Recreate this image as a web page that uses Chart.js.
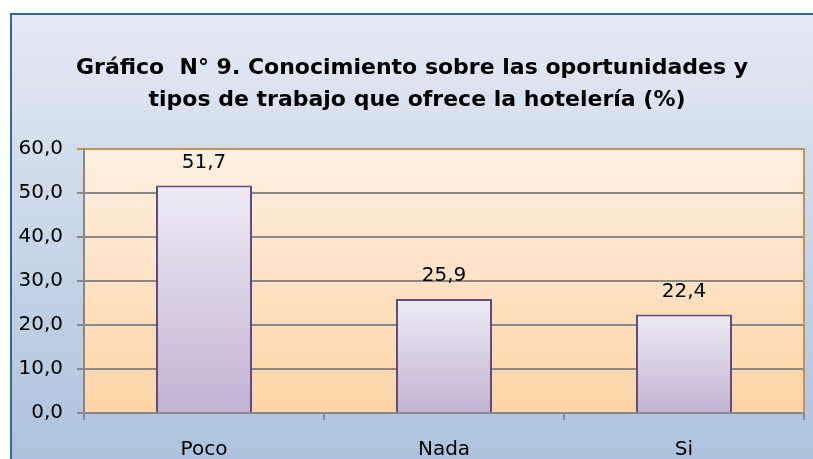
<!DOCTYPE html>
<html>
<head>
<meta charset="utf-8">
<script src="https://cdn.jsdelivr.net/npm/chart.js@4.4.1/dist/chart.umd.min.js"></script>
<style>
  html, body { margin: 0; padding: 0; background: #ffffff; }
  #wrap { width: 813px; height: 459px; }
</style>
</head>
<body>
<div id="wrap"><canvas id="c" width="813" height="459"></canvas></div>
<script>
// ---- data ----
const categories = ["Poco", "Nada", "Si"];
const values = [51.7, 25.9, 22.4];
const titleLines = [
  "Gráfico  N° 9. Conocimiento sobre las oportunidades y",
  "tipos de trabajo que ofrece la hotelería (%)"
];
const yMin = 0;
const yMax = 60;
const yStep = 10;

const fmt = v => Number(v).toFixed(1).replace('.', ',');
const FONT = '"DejaVu Sans"';

const bgPlugin = {
  id: 'bg',
  beforeDraw(chart) {
    const ctx = chart.ctx;
    const W = chart.width, H = chart.height;
    ctx.save();
    ctx.fillStyle = '#ffffff';
    ctx.fillRect(0, 0, W, H);
    const g = ctx.createLinearGradient(0, 13, 0, H);
    g.addColorStop(0, '#E4EAF3');
    g.addColorStop(1, '#ADC3DD');
    ctx.fillStyle = g;
    ctx.fillRect(10, 13, W - 10, H - 13);
    ctx.strokeStyle = '#33689A';
    ctx.lineWidth = 2;
    ctx.beginPath();
    ctx.moveTo(11, H);
    ctx.lineTo(11, 14);
    ctx.lineTo(W, 14);
    ctx.stroke();
    const a = chart.chartArea;
    const pg = ctx.createLinearGradient(0, a.top, 0, a.bottom);
    pg.addColorStop(0, '#FFF0E2');
    pg.addColorStop(1, '#FDD4A5');
    ctx.fillStyle = pg;
    ctx.fillRect(a.left, a.top, a.right - a.left, a.bottom - a.top);
    // title
    ctx.fillStyle = '#000000';
    ctx.font = 'bold 22px ' + FONT;
    ctx.textAlign = 'center';
    ctx.textBaseline = 'alphabetic';
    ctx.fillText(titleLines[0], 412, 74);
    ctx.fillText(titleLines[1], 417, 106);
    ctx.restore();
  },
  beforeDatasetsDraw(chart) {
    const ctx = chart.ctx;
    const a = chart.chartArea;
    ctx.save();
    ctx.strokeStyle = '#C4924C';
    ctx.lineWidth = 2;
    ctx.beginPath();
    ctx.moveTo(a.left, a.top);
    ctx.lineTo(a.right, a.top);
    ctx.lineTo(a.right, a.bottom);
    ctx.stroke();
    ctx.restore();
  },
  afterDatasetsDraw(chart) {
    const ctx = chart.ctx;
    const meta = chart.getDatasetMeta(0);
    ctx.save();
    ctx.fillStyle = '#000000';
    ctx.font = '20px ' + FONT;
    ctx.textAlign = 'center';
    ctx.textBaseline = 'middle';
    meta.data.forEach((bar, i) => {
      ctx.fillText(fmt(chart.data.datasets[0].data[i]), bar.x, bar.y - 23);
    });
    ctx.restore();
  }
};

new Chart(document.getElementById('c'), {
  type: 'bar',
  data: {
    labels: categories,
    datasets: [{
      data: values,
      backgroundColor(context) {
        const chart = context.chart;
        const a = chart.chartArea;
        if (!a) return '#D8D0E6';
        const v = context.raw;
        const yTop = chart.scales.y.getPixelForValue(v);
        const yBot = chart.scales.y.getPixelForValue(0);
        const g = chart.ctx.createLinearGradient(0, yTop, 0, yBot);
        g.addColorStop(0, '#EEEBF5');
        g.addColorStop(1, '#C3B2D3');
        return g;
      },
      borderColor: '#604C84',
      borderWidth: 2,
      barPercentage: 0.4,
      categoryPercentage: 1.0
    }]
  },
  options: {
    responsive: false,
    animation: false,
    devicePixelRatio: 1,
    layout: { padding: { top: 149, left: 0, right: 9, bottom: 0 } },
    plugins: {
      legend: { display: false },
      tooltip: { enabled: false },
      title: { display: false }
    },
    scales: {
      x: {
        afterFit(scale) { scale.height = 46; },
        grid: {
          display: true,
          drawOnChartArea: false,
          drawTicks: true,
          tickLength: 7,
          color: '#888888',
          lineWidth: 2,
          offset: true
        },
        border: { display: true, color: '#888888', width: 2 },
        ticks: {
          color: '#000000',
          font: { family: 'DejaVu Sans', size: 20 },
          padding: 18
        }
      },
      y: {
        min: yMin,
        max: yMax,
        afterFit(scale) { scale.width = 84; },
        grid: {
          color(ctx) { return ctx.tick && ctx.tick.value === yMax ? '#C4924C' : '#888888'; },
          lineWidth: 2,
          tickLength: 7,
          drawTicks: true
        },
        border: { display: true, color: '#888888', width: 2 },
        ticks: {
          stepSize: yStep,
          color: '#000000',
          font: { family: 'DejaVu Sans', size: 20 },
          padding: 14,
          callback: v => fmt(v)
        }
      }
    }
  },
  plugins: [bgPlugin]
});
</script>
</body>
</html>
